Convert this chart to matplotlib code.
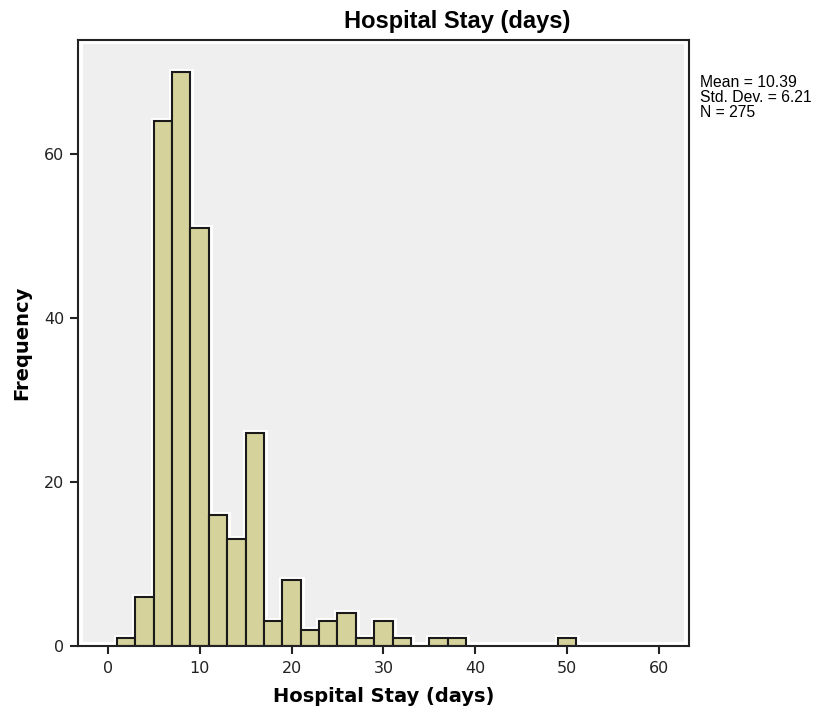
import numpy as np
import matplotlib.pyplot as plt
from matplotlib.patches import Rectangle

# histogram bins (left edge of each 2-day bin) and counts
bin_starts = [1, 3, 5, 7, 9, 11, 13, 15, 17, 19, 21, 23, 25, 27, 29, 31, 35, 37, 49]
counts = [1, 6, 64, 70, 51, 16, 13, 26, 3, 8, 2, 3, 4, 1, 3, 1, 1, 1, 1]
bin_width = 2

x_ticks = [0, 10, 20, 30, 40, 50, 60]
y_ticks = [0, 20, 40, 60]
stats_lines = ["Mean = 10.39", "Std. Dev. = 6.21", "N = 275"]

fig = plt.figure(figsize=(8.17, 7.17), dpi=100)
ax = fig.add_axes([0.0955, 0.099, 0.7478, 0.8452])
ax.set_facecolor("white")

# grey inner panel, inset from the frame like SPSS output
ax.add_patch(Rectangle((0.008, 0.007), 0.984, 0.986, transform=ax.transAxes,
                       facecolor="#efefef", edgecolor="none", zorder=0))

# white halo behind the bars, then the bars themselves
ax.bar(bin_starts, counts, width=bin_width, align="edge",
       color="white", edgecolor="white", linewidth=5, zorder=1)
ax.bar(bin_starts, counts, width=bin_width, align="edge",
       color="#d6d29c", edgecolor="#1a1a1a", linewidth=1.5, zorder=2)

ax.set_xlim(-3.23, 63.25)
ax.set_ylim(0, 73.9)
ax.set_xticks(x_ticks)
ax.set_yticks(y_ticks)

for s in ax.spines.values():
    s.set_linewidth(1.5)
    s.set_color("#222222")
    s.set_zorder(3)
ax.tick_params(axis="both", direction="out", length=6, width=1.5,
               labelsize=11.5, colors="#222222", pad=4)
ax.tick_params(axis="x", pad=5)

ax.set_xlabel("Hospital Stay (days)", fontsize=14, fontweight="bold", labelpad=8)
ax.set_ylabel("Frequency", fontsize=14, fontweight="bold", labelpad=9)

fig.text(0.559, 0.970, "Hospital Stay (days)", ha="center", va="center",
         fontsize=17, fontweight="bold", family="Liberation Sans")

fig.text(0.857, 0.895, "\n".join(stats_lines), ha="left", va="top",
         fontsize=11.3, family="Liberation Sans", linespacing=1.0)

fig.savefig("out.png", dpi=100)
